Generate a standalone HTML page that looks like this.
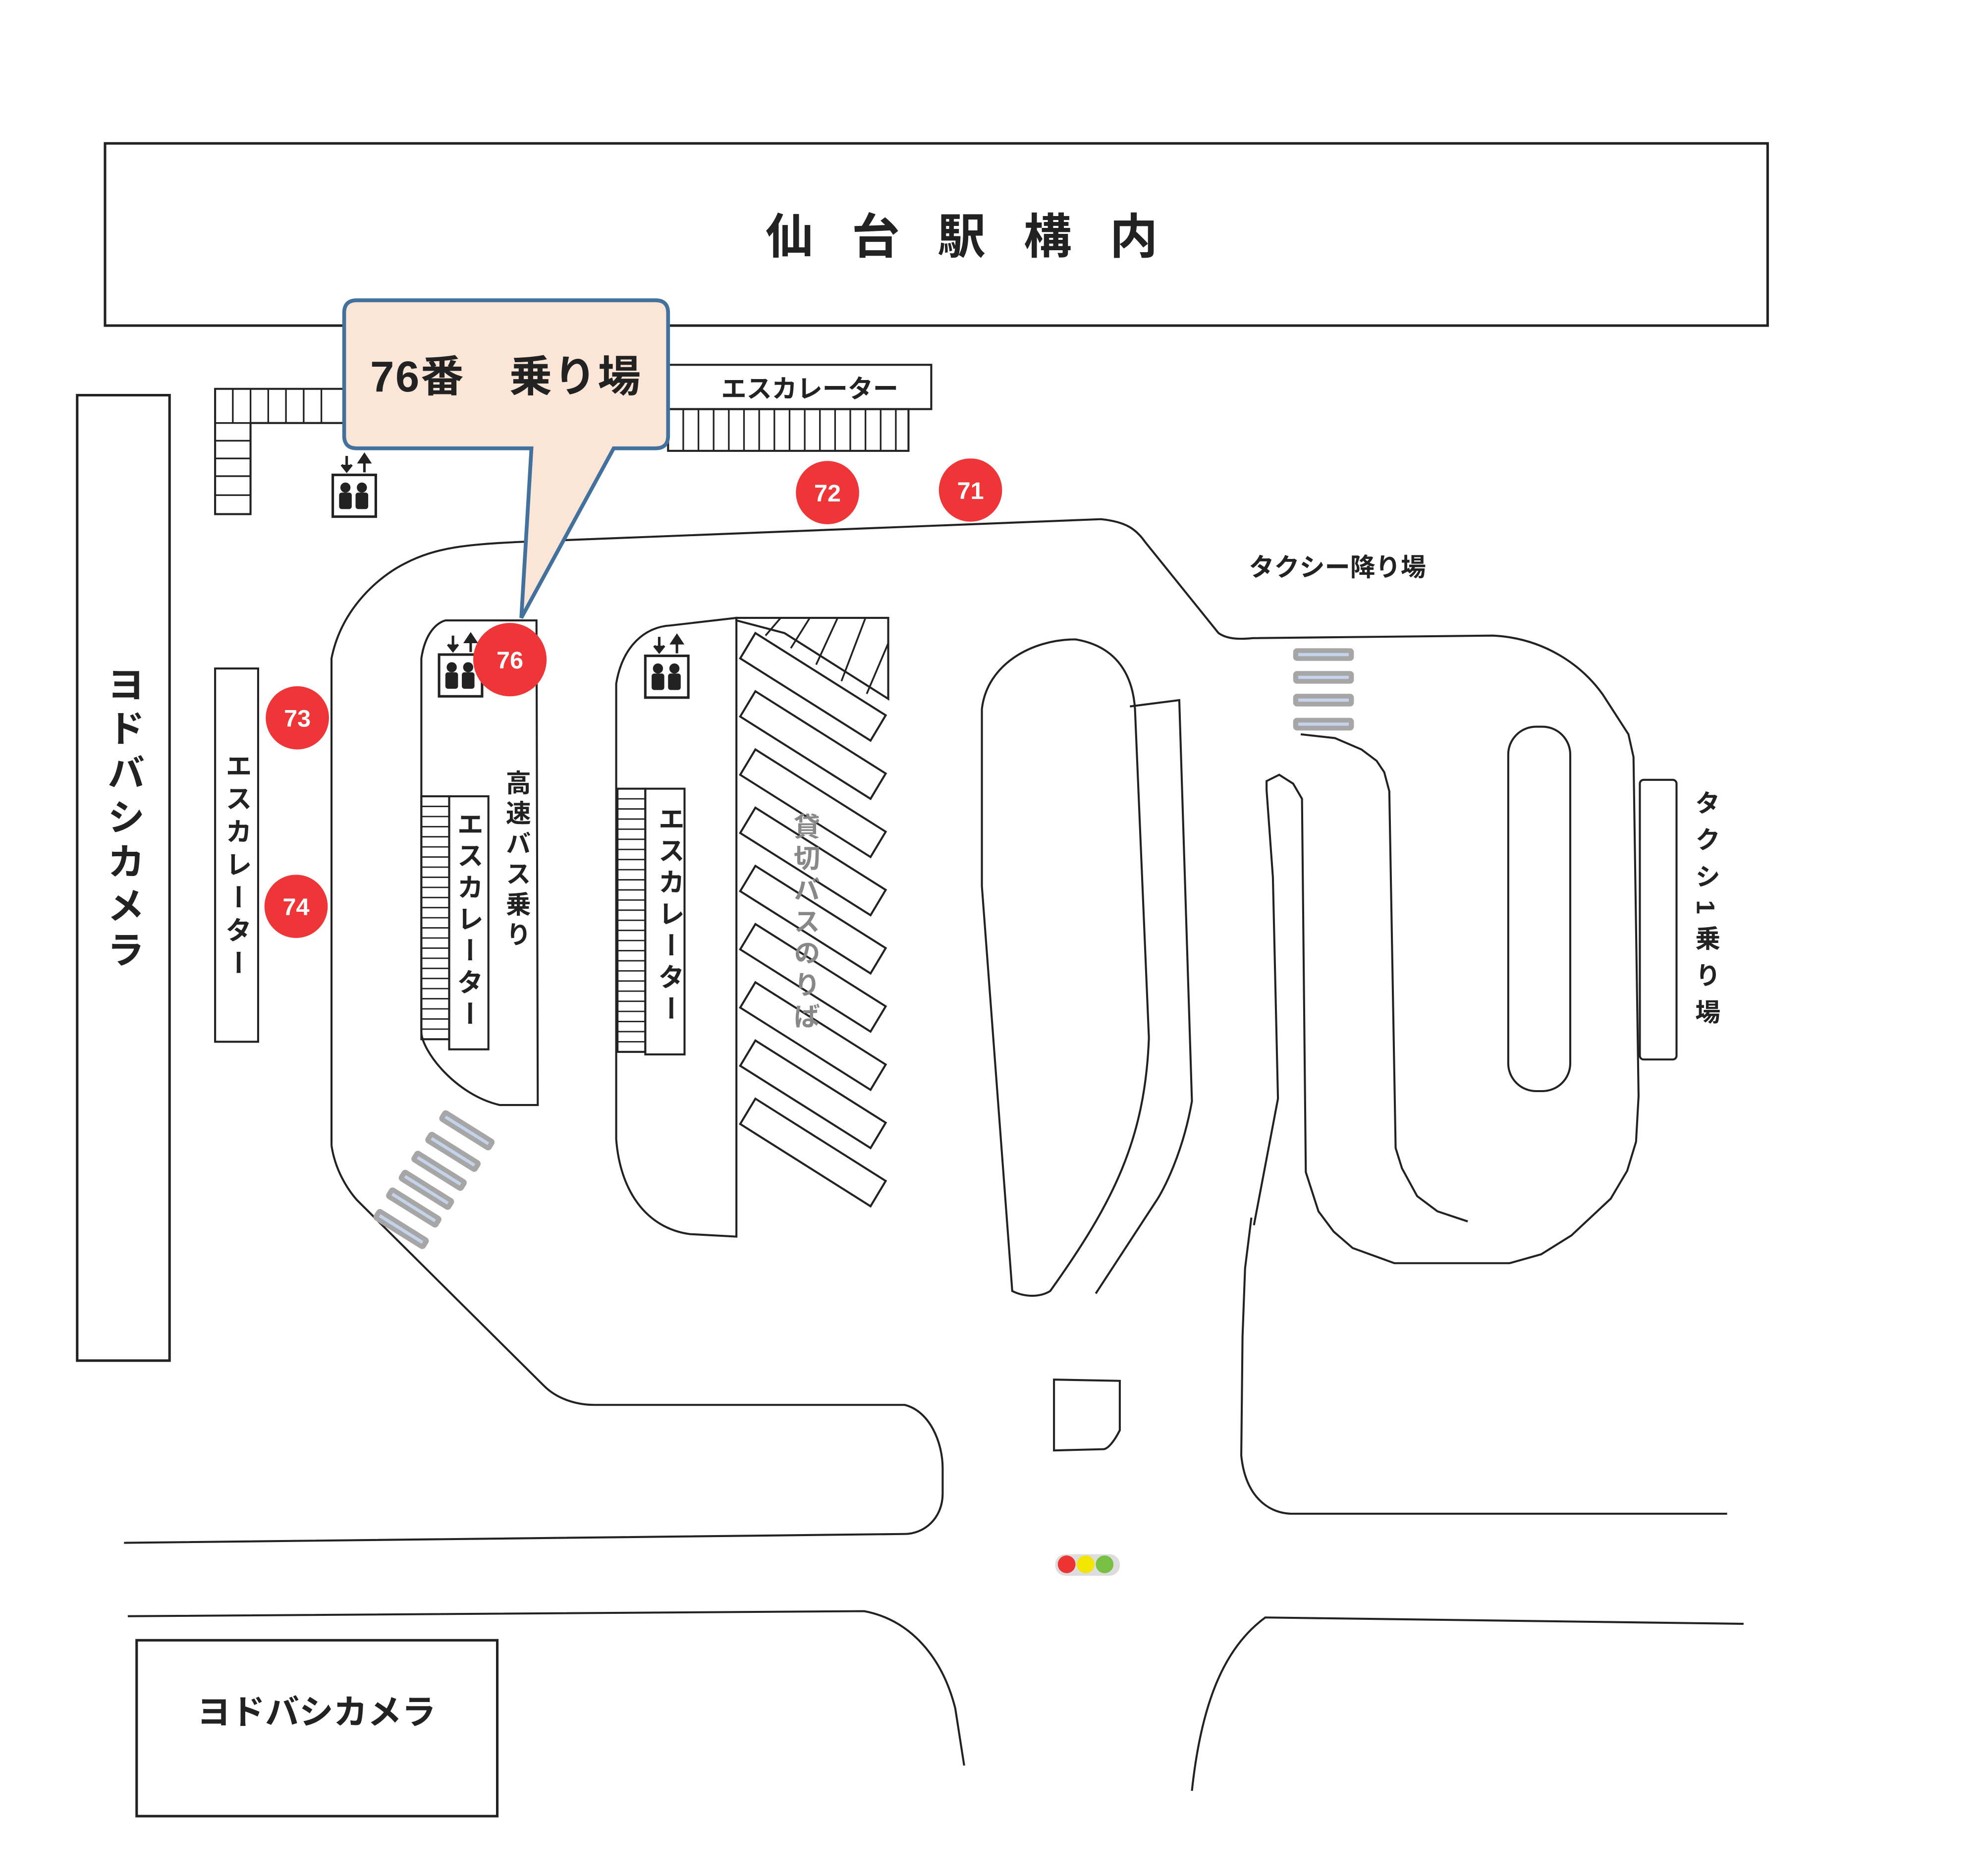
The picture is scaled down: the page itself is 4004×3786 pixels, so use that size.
<!DOCTYPE html>
<html><head><meta charset="utf-8"><style>
html,body{margin:0;padding:0;background:#fff;}
svg{display:block;}
text{font-family:"Liberation Sans","Noto Sans CJK JP",sans-serif;}
.v{writing-mode:vertical-rl;}
</style></head><body>
<svg width="4004" height="3786" viewBox="0 0 1568 1482" xmlns="http://www.w3.org/2000/svg">
<defs>
<g id="elev">
 <rect x="0" y="0" width="34" height="33" fill="#fff" stroke="#222" stroke-width="2"/>
 <circle cx="10" cy="10" r="4" fill="#222"/><rect x="5" y="14" width="10" height="13" rx="2" fill="#222"/>
 <circle cx="23" cy="10" r="4" fill="#222"/><rect x="18" y="14" width="10" height="13" rx="2" fill="#222"/>
 <path d="M11,-15 V-4 M7,-8 L11,-3 L15,-8" stroke="#222" stroke-width="2" fill="#222"/>
 <path d="M25,-2 V-13 M21,-10 L25,-16 L29,-10 Z" stroke="#222" stroke-width="2" fill="#222"/>
</g>
<g id="bar"><rect x="-24" y="-5" width="48" height="10" rx="3" fill="#a6a6a6"/><line x1="-20" y1="0" x2="20" y2="0" stroke="#c5d3ea" stroke-width="2.5"/></g>
<polygon id="slot" points="597,500 700,565 688,585 585,520" fill="#fff" stroke="#222" stroke-width="1.6"/>
</defs>
<g fill="none" stroke="#222" stroke-width="1.6">
<rect x="83" y="113" width="1314" height="144" stroke-width="2"/>
<rect x="61" y="312" width="73" height="763" stroke-width="2"/>
<rect x="108" y="1296" width="285" height="139" stroke-width="2"/>
<path d="M262,905 L262,520 C270,480 300,455 320,445 C345,432 370,430 410,428 L870,410 C890,412 898,418 905,428 L963,500 C970,505 980,505 990,504 L1180,502 C1220,504 1250,525 1267,549 L1287,580 L1291,598 L1295,866 L1293,902 L1286,925 L1273,947 L1242,976 L1218,991 L1193,998 L1102,998 L1069,986 L1054,973 L1042,957 L1032,926 L1029,631 L1022,619 L1011,612 L1001,617 L1001,624 L1006,693 L1010,868 L991,968"/>
<path d="M1028,580 L1055,583 L1076,592 L1088,601 L1094,610 L1098,625 L1103,907 L1108,923 L1120,945 L1136,957 L1160,965"/>
<path d="M989,962 L984,1002 L982,1056 L981,1150 C984,1180 1000,1195 1020,1196 L1365,1196"/>
<path d="M262,905 C265,925 275,940 282,948 L430,1095 C440,1105 455,1110 470,1110 L715,1110 C735,1115 745,1140 745,1160 L745,1180 C745,1200 730,1212 715,1212 L98,1219"/>
<path d="M800,1020 L776,700 L776,560 C780,525 815,505 850,505 C880,510 895,530 897,560 L908,820 C905,900 880,950 830,1020 C822,1025 810,1025 800,1020 Z"/>
<path d="M893,558 L932,553 L942,870 C935,910 920,940 913,950 L866,1022"/>
<rect x="1192" y="574" width="49" height="288" rx="22"/>
<rect x="1296" y="616" width="29" height="221" rx="3"/>
<path d="M101,1277 L683,1273 C720,1280 745,1310 755,1350 L762,1395"/>
<path d="M942,1415 C950,1340 970,1300 1000,1278 L1378,1283"/>
<path d="M833,1090 L885,1091 L885,1130 C880,1140 875,1145 872,1145 L833,1146 Z"/>
<path d="M352,490 L424,490 L425,873 L395,873 C360,865 333,830 333,815 L333,520 C336,500 345,492 352,490 Z" fill="#fff"/>
<path d="M582,488 L582,977 L545,975 C510,970 490,940 487,900 L487,540 C492,510 510,495 530,494 Z" fill="#fff"/>
<polygon points="582,488 702,488 702,552 620,500 582,490" fill="#fff"/>
<path d="M605,502 L617,488 M625,512 L640,488 M645,525 L662,488 M665,538 L684,488 M685,548 L702,508 M702,488 L702,552" stroke-width="1.4"/>
<rect x="528" y="288" width="208" height="35"/>
<rect x="528" y="323" width="190" height="33"/>
<path d="M540,323V356M552,323V356M564,323V356M576,323V356M588,323V356M600,323V356M612,323V356M624,323V356M636,323V356M648,323V356M660,323V356M672,323V356M684,323V356M696,323V356M708,323V356" stroke-width="1.3"/>
<path d="M170,307 H272 V334 H198 V406 H170 Z"/>
<path d="M184,307V334M198,307V334M212,307V334M226,307V334M240,307V334M254,307V334M170,334H198M170,348H198M170,362H198M170,376H198M170,391H198" stroke-width="1.3"/>
<rect x="170" y="528" width="34" height="295"/>
<rect x="355" y="629" width="31" height="200"/>
<rect x="333" y="629" width="22" height="192"/>
<path d="M333,637H355M333,645H355M333,653H355M333,661H355M333,669H355M333,677H355M333,685H355M333,693H355M333,701H355M333,709H355M333,717H355M333,725H355M333,733H355M333,741H355M333,749H355M333,757H355M333,765H355M333,773H355M333,781H355M333,789H355M333,797H355M333,805H355M333,813H355" stroke-width="1.1"/>
<rect x="510" y="623" width="31" height="210"/>
<rect x="488" y="623" width="22" height="208"/>
<path d="M488,631H510M488,639H510M488,647H510M488,655H510M488,663H510M488,671H510M488,679H510M488,687H510M488,695H510M488,703H510M488,711H510M488,719H510M488,727H510M488,735H510M488,743H510M488,751H510M488,759H510M488,767H510M488,775H510M488,783H510M488,791H510M488,799H510M488,807H510M488,815H510M488,823H510" stroke-width="1.1"/>
</g>
<use href="#slot"/><use href="#slot" y="46"/><use href="#slot" y="92"/><use href="#slot" y="138"/><use href="#slot" y="184"/><use href="#slot" y="230"/><use href="#slot" y="276"/><use href="#slot" y="322"/><use href="#slot" y="368"/>
<use href="#elev" x="263" y="375"/><use href="#elev" x="347" y="517"/><use href="#elev" x="510" y="518"/>
<use href="#bar" x="1046" y="517"/><use href="#bar" x="1046" y="535"/><use href="#bar" x="1046" y="553"/><use href="#bar" x="1046" y="572"/>
<use href="#bar" transform="translate(369,893) rotate(32)"/>
<use href="#bar" transform="translate(358,910) rotate(32)"/>
<use href="#bar" transform="translate(347,925) rotate(32)"/>
<use href="#bar" transform="translate(337,940) rotate(32)"/>
<use href="#bar" transform="translate(327,954) rotate(32)"/>
<use href="#bar" transform="translate(317,971) rotate(32)"/>
<rect x="834" y="1228" width="51" height="17" rx="8" fill="#ddd"/>
<circle cx="843" cy="1236" r="7" fill="#ee3333"/><circle cx="858" cy="1236" r="7" fill="#f2e600"/><circle cx="873" cy="1236" r="7" fill="#77c043"/>
<path d="M282,237 H518 Q528,237 528,247 V344 Q528,354 518,354 H485 L412,488 L420,354 H282 Q272,354 272,344 V247 Q272,237 282,237 Z" fill="#fbe5d6" stroke="#41719c" stroke-width="3"/>
<text x="400" y="309" font-size="34" text-anchor="middle" fill="#222" font-weight="bold" letter-spacing="1">76番　乗り場</text>
<g font-size="19" font-weight="bold" fill="#fff" text-anchor="middle">
<circle cx="654" cy="389" r="25" fill="#ee3537"/><text x="654" y="396">72</text>
<circle cx="767" cy="387" r="25" fill="#ee3537"/><text x="767" y="394">71</text>
<circle cx="235" cy="567" r="25" fill="#ee3537"/><text x="235" y="574">73</text>
<circle cx="234" cy="716" r="25" fill="#ee3537"/><text x="234" y="723">74</text>
<circle cx="403" cy="521" r="29" fill="#ee3537"/><text x="403" y="528">76</text>
</g>
<g fill="#222" font-weight="bold">
<text x="775" y="200" font-size="38" text-anchor="middle" letter-spacing="30">仙台駅構内</text>
<text x="640" y="314" font-size="20" text-anchor="middle">エスカレーター</text>
<text x="1057" y="455" font-size="20" text-anchor="middle">タクシー降り場</text>
<text x="250" y="1362" font-size="27" text-anchor="middle">ヨドバシカメラ</text>
<text class="v" x="97" y="525" font-size="30" letter-spacing="5">ヨドバシカメラ</text>
<text class="v" x="187" y="594" font-size="21" letter-spacing="5">エスカレーター</text>
<text class="v" x="370" y="640" font-size="21" letter-spacing="4">エスカレーター</text>
<text class="v" x="529" y="636" font-size="21" letter-spacing="4">エスカレーター</text>
<text class="v" x="408" y="608" font-size="20" letter-spacing="4">高速バス乗り</text>
<text class="v" x="1348" y="624" font-size="20" letter-spacing="9">タクシ1乗り場</text>
</g>
<text class="v" x="636" y="642" font-size="21" fill="#888" font-weight="bold" letter-spacing="4">貸切バスのりば</text>
</svg>
</body></html>
